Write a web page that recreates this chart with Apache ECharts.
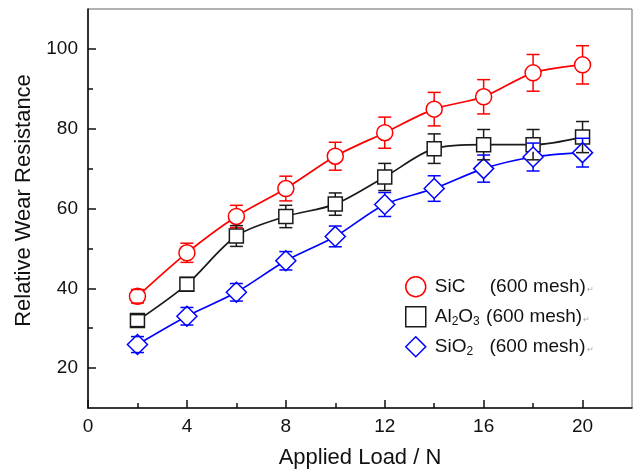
<!DOCTYPE html>
<html>
<head>
<meta charset="utf-8">
<script src="https://cdn.jsdelivr.net/npm/echarts@6/dist/echarts.min.js"></script>
<style>
html,body{margin:0;padding:0;background:#fff;}
#chart{width:634px;height:475px;}
</style>
</head>
<body>
<div id="chart"></div>
<script>
// Applied load (N)
const loads = [2, 4, 6, 8, 10, 12, 14, 16, 18, 20];
// SiC (600 mesh)
const sicValues = [38.0, 48.9, 58.0, 65.0, 73.1, 79.0, 84.9, 88.0, 94.0, 96.0];
const sicErrors = [1.7, 2.4, 2.8, 3.1, 3.5, 3.9, 4.2, 4.3, 4.6, 4.8];
// Al2O3 (600 mesh)
const al2o3Values = [31.9, 41.0, 53.1, 58.0, 61.1, 67.9, 75.0, 76.0, 76.0, 77.9];
const al2o3Errors = [1.5, 1.7, 2.6, 2.8, 2.8, 3.4, 3.7, 3.8, 3.8, 3.9];
// SiO2 (600 mesh)
const sio2Values = [25.9, 33.0, 39.0, 46.9, 53.0, 61.0, 65.0, 70.0, 72.9, 74.0];
const sio2Errors = [2.0, 2.2, 2.2, 2.3, 2.6, 3.0, 3.2, 3.4, 3.5, 3.6];
// Tick values
const xMajorTicks = [0, 4, 8, 12, 16, 20];
const xMinorTicks = [2, 6, 10, 14, 18];
const yMajorTicks = [20, 40, 60, 80, 100];
const yMinorTicks = [30, 50, 70, 90];

const FONT = 'Liberation Sans, Arial, Helvetica, sans-serif';
const RED = '#ff0000', BLACK = '#1a1a1a', BLUE = '#0000ff';

const chart = echarts.init(document.getElementById('chart'), null, {renderer: 'canvas'});

function lineSeries(name, values, color, symbol, size) {
  return {
    type: 'line', name: name, z: 2,
    data: loads.map((x, i) => [x, values[i]]),
    smooth: 0.3,
    symbol: symbol, symbolSize: size,
    itemStyle: {color: '#fff', borderColor: color, borderWidth: 1.5},
    lineStyle: {color: color, width: 1.7},
    emphasis: {disabled: true}
  };
}

function errorSeries(name, values, errors, color, gap) {
  return {
    type: 'custom', name: name + ' error', z: 5,
    data: loads.map((x, i) => [x, values[i], errors[i]]),
    encode: {x: 0, y: 1},
    renderItem: function (params, api) {
      const x = api.value(0), y = api.value(1), e = api.value(2);
      const c = api.coord([x, y]);
      const t = api.coord([x, y + e]);
      const b = api.coord([x, y - e]);
      const hw = 6.5;
      const style = {stroke: color, lineWidth: 1.5, fill: null};
      const children = [
        {type: 'line', shape: {x1: t[0] - hw, y1: t[1], x2: t[0] + hw, y2: t[1]}, style: style},
        {type: 'line', shape: {x1: b[0] - hw, y1: b[1], x2: b[0] + hw, y2: b[1]}, style: style}
      ];
      if (t[1] < c[1] - gap) children.push({type: 'line', shape: {x1: c[0], y1: t[1], x2: c[0], y2: c[1] - gap}, style: style});
      if (b[1] > c[1] + gap) children.push({type: 'line', shape: {x1: c[0], y1: c[1] + gap, x2: c[0], y2: b[1]}, style: style});
      return {type: 'group', children: children};
    }
  };
}

const legendText = {
  'SiC': '{n0|SiC}{t|(600 mesh)}{r|↵}',
  'Al2O3': '{n1|Al}{s|2}{n|O}{s3|3}{t|(600 mesh)}{r|↵}',
  'SiO2': '{n1|Si}{n|O}{s2|2}{t|(600 mesh)}{r|↵}'
};

const baseAxisLine = {show: true, lineStyle: {color: '#111', width: 1.6}};

const option = {
  backgroundColor: '#fff',
  animation: false,
  grid: {left: 88, right: 2, top: 9, bottom: 67, show: true, borderColor: '#666', borderWidth: 1, backgroundColor: 'transparent'},
  xAxis: [
    {
      type: 'value', min: 0, max: 22, position: 'bottom',
      name: 'Applied Load / N', nameLocation: 'middle', nameGap: 39,
      nameTextStyle: {fontFamily: FONT, fontSize: 22, color: '#111'},
      axisLine: baseAxisLine,
      axisTick: {show: true, inside: true, length: 8, customValues: xMajorTicks, lineStyle: {color: '#111', width: 1.5}},
      axisLabel: {show: true, customValues: xMajorTicks, margin: 9, fontFamily: FONT, fontSize: 19, color: '#111'},
      splitLine: {show: false}
    },
    {
      type: 'value', min: 0, max: 22, position: 'bottom',
      axisLine: {show: false},
      axisTick: {show: true, inside: true, length: 5, customValues: xMinorTicks, lineStyle: {color: '#111', width: 1.5}},
      axisLabel: {show: false},
      splitLine: {show: false}
    }
  ],
  yAxis: [
    {
      type: 'value', min: 10, max: 110, position: 'left',
      name: 'Relative Wear Resistance', nameLocation: 'middle', nameGap: 51,
      nameTextStyle: {fontFamily: FONT, fontSize: 22, color: '#111', padding: [0, 0, 0, 16]},
      axisLine: baseAxisLine,
      axisTick: {show: true, inside: true, length: 8, customValues: yMajorTicks, lineStyle: {color: '#111', width: 1.5}},
      axisLabel: {show: true, customValues: yMajorTicks, margin: 10, fontFamily: FONT, fontSize: 19, color: '#111'},
      splitLine: {show: false}
    },
    {
      type: 'value', min: 10, max: 110, position: 'left',
      axisLine: {show: false},
      axisTick: {show: true, inside: true, length: 5, customValues: yMinorTicks, lineStyle: {color: '#111', width: 1.5}},
      axisLabel: {show: false},
      splitLine: {show: false}
    }
  ],
  legend: {
    orient: 'vertical', left: 400, top: 271,
    itemWidth: 20, itemHeight: 20, itemGap: 8.5,
    selectedMode: false,
    data: [
      {name: 'SiC', icon: 'circle', itemStyle: {color: '#fff', borderColor: RED, borderWidth: 1.5}},
      {name: 'Al2O3', icon: 'rect', itemStyle: {color: '#fff', borderColor: BLACK, borderWidth: 1.5}},
      {name: 'SiO2', icon: 'diamond', itemStyle: {color: '#fff', borderColor: BLUE, borderWidth: 1.5}}
    ],
    formatter: function (name) { return legendText[name]; },
    textStyle: {
      fontFamily: FONT, fontSize: 19, color: '#111',
      rich: {
        n0: {fontFamily: FONT, fontSize: 19, color: '#111', width: 55, padding: [0, 0, 0, 4]},
        n1: {fontFamily: FONT, fontSize: 19, color: '#111', padding: [0, 0, 0, 4]},
        n: {fontFamily: FONT, fontSize: 19, color: '#111'},
        s: {fontFamily: FONT, fontSize: 12, color: '#111', padding: [9, 0, 0, 0]},
        s3: {fontFamily: FONT, fontSize: 12, color: '#111', width: 13, padding: [9, 0, 0, 0]},
        s2: {fontFamily: FONT, fontSize: 12, color: '#111', width: 23, padding: [9, 0, 0, 0]},
        t: {fontFamily: FONT, fontSize: 19, color: '#111'},
        r: {fontFamily: FONT, fontSize: 8, color: '#aaa', padding: [6, 0, 0, 1]}
      }
    }
  },
  series: [
    lineSeries('SiC', sicValues, RED, 'circle', 16),
    lineSeries('Al2O3', al2o3Values, BLACK, 'rect', 14),
    lineSeries('SiO2', sio2Values, BLUE, 'diamond', 20),
    errorSeries('SiC', sicValues, sicErrors, RED, 8),
    errorSeries('Al2O3', al2o3Values, al2o3Errors, BLACK, 7),
    errorSeries('SiO2', sio2Values, sio2Errors, BLUE, 10)
  ]
};
chart.setOption(option);
</script>
</body>
</html>
